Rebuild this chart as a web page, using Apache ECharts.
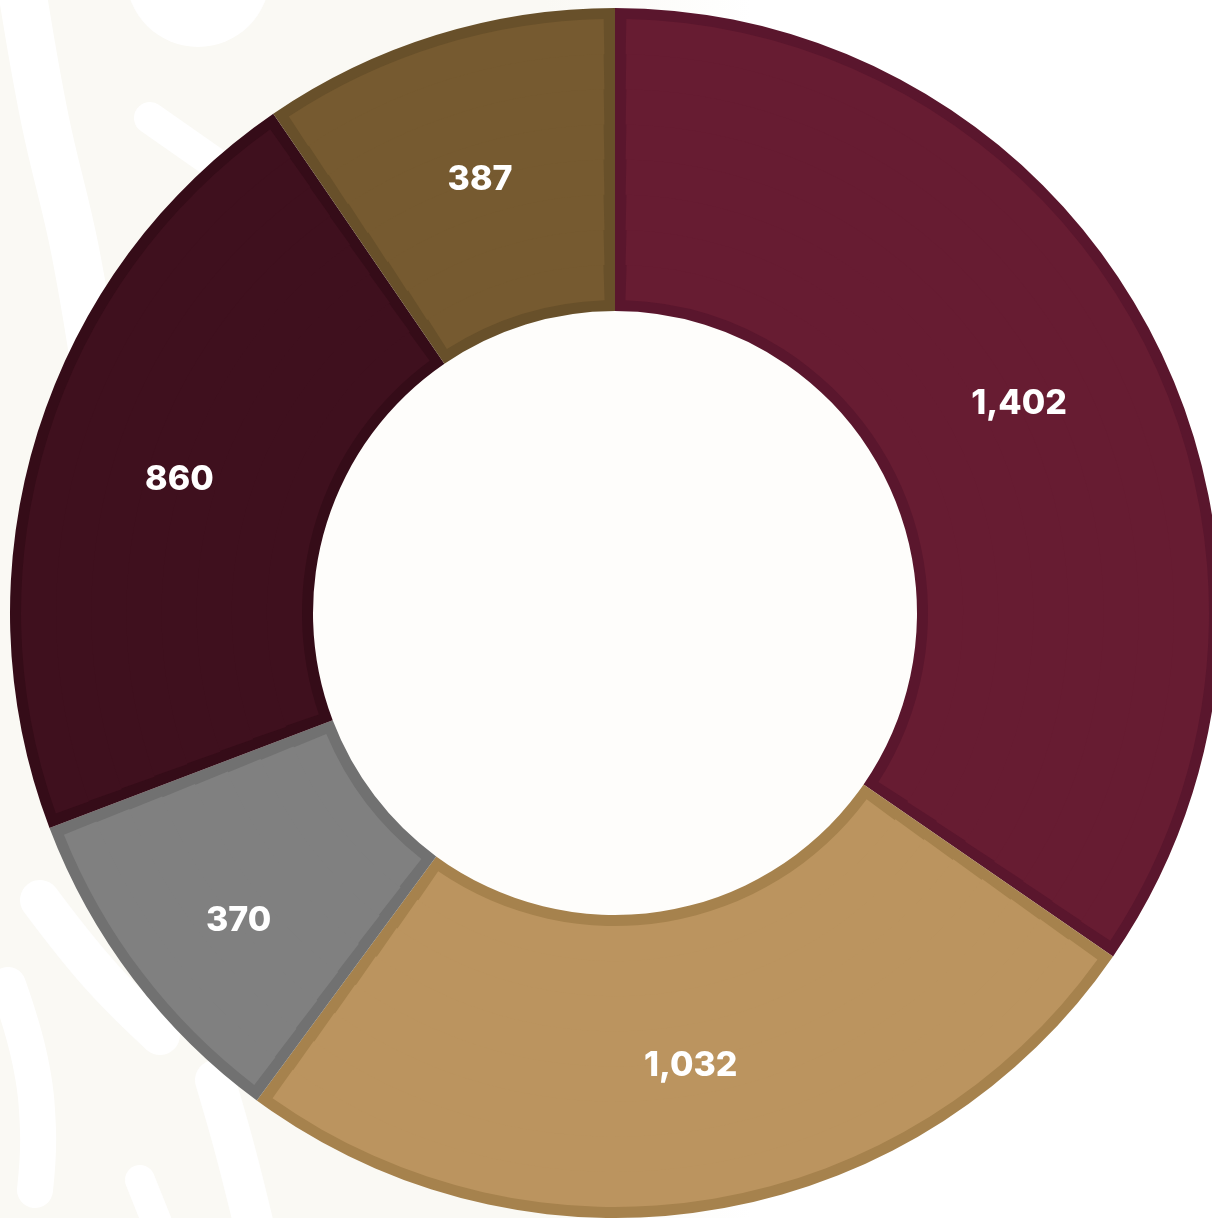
<!DOCTYPE html>
<html>
<head>
<meta charset="utf-8">
<script src="https://cdn.jsdelivr.net/npm/echarts@6/dist/echarts.min.js"></script>
<style>
html,body{margin:0;padding:0;background:#FFFFFF;}
#main{width:1212px;height:1218px;}
</style>
</head>
<body>
<div id="main"></div>
<script>
// ---- data ----
const categories = ['A', 'B', 'C', 'D', 'E'];
const values = [1402, 1032, 370, 860, 387];
const fillColors = ['#671C32', '#BB945F', '#808080', '#3F101E', '#765A30'];
const edgeColors = ['#5A162D', '#A6824D', '#717171', '#350C18', '#68502A'];

// ---- geometry / style ----
const CX = 615, CY = 613;
const R_IN = 302, R_OUT = 605;
const BAND = 11;          // width of the darker inner edge of each slice
const RINGS = 8;          // fill drawn as thin rings so the edge keeps an even width

const chart = echarts.init(document.getElementById('main'));

const baseData = (colorArr) => categories.map((c, i) => ({
  name: c, value: values[i], itemStyle: { color: colorArr[i] }
}));

const series = [];
// darker edge layer (full slices)
series.push({
  type: 'pie', center: [CX, CY], radius: [R_IN, R_OUT], startAngle: 90, clockwise: true,
  silent: true, label: { show: false }, labelLine: { show: false },
  itemStyle: { borderWidth: 0 }, emphasis: { disabled: true },
  data: baseData(edgeColors), z: 2
});
// fill layer, inset by BAND on every side
const fIn = R_IN + BAND, fOut = R_OUT - BAND;
const step = (fOut - fIn) / RINGS;
for (let k = 0; k < RINGS; k++) {
  const a = fIn + k * step, b = fIn + (k + 1) * step;
  const mid = (a + b) / 2;
  const pad = (2 * BAND / mid) * 180 / Math.PI;
  series.push({
    type: 'pie', center: [CX, CY], radius: [a, Math.min(b + 1, fOut)], startAngle: 90, clockwise: true,
    padAngle: pad, silent: true, label: { show: false }, labelLine: { show: false },
    itemStyle: { borderWidth: 0 }, emphasis: { disabled: true },
    data: baseData(fillColors), z: 3
  });
}
// label layer
series.push({
  type: 'pie', center: [CX, CY], radius: [R_IN, R_OUT], startAngle: 90, clockwise: true,
  silent: true, emphasis: { disabled: true }, z: 4,
  itemStyle: { color: 'rgba(0,0,0,0)', borderWidth: 0 },
  data: categories.map((c, i) => ({ name: c, value: values[i] })),
  label: {
    show: true, position: 'inside', color: '#FFFFFF',
    fontFamily: 'Inter', fontWeight: 800, fontSize: 34,
    formatter: p => p.value.toLocaleString('en-US')
  },
  labelLine: { show: false },
  labelLayout: p => (p.dataIndex === 2 ? { dx: -13, dy: 31 } : { dx: 0, dy: 3 })
});

const W = '#FFFFFF';
const swoosh = (pts, w) => ({
  type: 'polyline', z: 0, silent: true,
  shape: { points: pts, smooth: 0.4 },
  style: { stroke: W, lineWidth: w, lineCap: 'round', lineJoin: 'round', fill: null }
});

chart.setOption({
  animation: false,
  backgroundColor: {
    type: 'linear', x: 0, y: 0, x2: 1, y2: 0,
    colorStops: [
      { offset: 0, color: '#FAF9F4' }, { offset: 0.45, color: '#FAF9F4' },
      { offset: 0.62, color: '#FFFFFF' }, { offset: 1, color: '#FFFFFF' }
    ]
  },
  graphic: [
    swoosh([[22, -10], [45, 120], [75, 250], [100, 400]], 48),
    { type: 'circle', z: 0, silent: true, shape: { cx: 198, cy: -25, r: 72 }, style: { fill: W } },
    swoosh([[150, 118], [250, 188]], 32),
    swoosh([[40, 900], [100, 975], [160, 1035]], 40),
    swoosh([[8, 985], [30, 1060], [38, 1130], [35, 1190]], 36),
    swoosh([[215, 1080], [235, 1150], [255, 1230]], 40),
    swoosh([[140, 1180], [160, 1230]], 30),
    { type: 'circle', z: 1, silent: true, shape: { cx: CX, cy: CY, r: R_IN + 2 }, style: { fill: '#FEFDFB' } }
  ],
  series: series
});
</script>
</body>
</html>
